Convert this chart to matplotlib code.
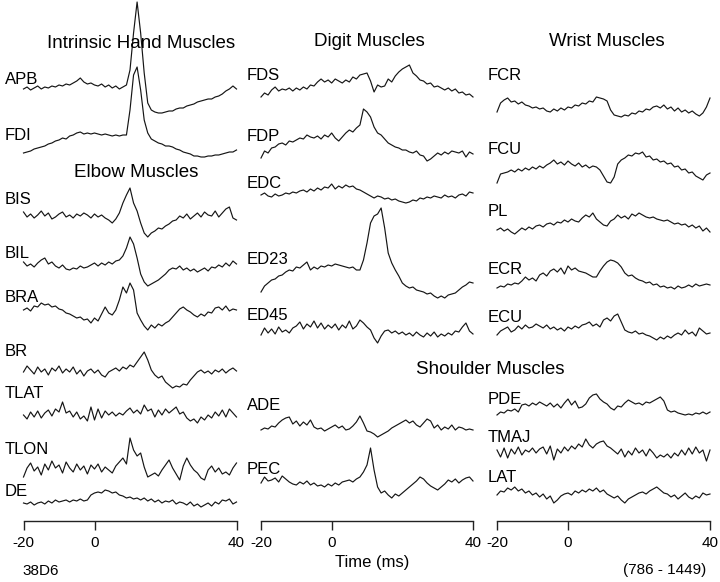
import numpy as np
import matplotlib
matplotlib.use("Agg")
import matplotlib.pyplot as plt

plt.rcParams['font.family'] = ['Liberation Sans', 'DejaVu Sans']
plt.rcParams['axes.unicode_minus'] = False

# time axis of every trace (ms)
time_ms = np.arange(-20, 41)
tick_values = [-20, 0, 40]

# ---- trace amplitudes (upward deflection, arbitrary units), t = -20 .. 40 ms ----
APB = [-1, 1, -2, 0, 2, -1, 1, 0, 2, 1,
       3, 2, 4, 3, 5, 7, 10, 6, 4, 5,
       3, 2, 4, 1, 3, 0, 2, -1, 1, 3,
       18, 55, 86, 55, 15, -15, -22, -24, -25, -25,
       -24, -23, -23, -21, -20, -20, -18, -17, -16, -14,
       -13, -12, -11, -11, -9, -8, -6, -3, -1, 2,
       -1]
FDI = [-18, -17, -16, -14, -13, -12, -11, -9, -8, -6,
       -5, -3, -4, -1, 0, 2, 3, 1, 2, 1,
       2, 1, 0, 1, 0, -1, 0, -1, 0, 0,
       25, 60, 68, 45, 15, 2, -4, -6, -8, -9,
       -11, -11, -12, -14, -15, -17, -18, -19, -21, -21,
       -22, -22, -21, -21, -20, -20, -19, -18, -17, -17,
       -15]
BIS = [3, -2, 1, -3, 0, 4, -1, 2, -4, -2,
       1, 3, -2, 0, -3, 1, -1, 2, 0, -3,
       1, -2, 0, -3, -5, -8, -4, 2, 12, 20,
       27, 12, 4, -8, -18, -22, -18, -16, -13, -14,
       -11, -9, -6, -5, -1, -3, 1, -4, -1, 2,
       -2, 3, 0, -1, 4, -2, 2, 6, 8, -3,
       -5]
BIL = [4, 0, 2, -1, 3, 6, 8, 2, 4, 0,
       -2, 1, -3, -4, -2, -3, 0, -2, -1, 1,
       3, 0, 3, 1, 4, 2, 5, 6, 10, 18,
       29, 22, 8, -8, -16, -20, -18, -16, -14, -11,
       -8, -4, -2, -3, 0, -4, -2, -5, -3, -6,
       -4, -2, -5, -1, -2, 1, -1, 3, 0, 5,
       2]
BRA = [0, 2, -1, 4, 3, 7, 5, 6, 3, 4,
       1, 0, -3, -4, -6, -8, -7, -10, -9, -13,
       -8, -11, -4, 3, -3, -5, 0, 10, 23, 17,
       27, 20, -3, -10, -16, -20, -15, -18, -14, -16,
       -13, -11, -7, -3, 1, 3, 0, -2, -5, -7,
       -4, -6, -2, -3, 2, 3, 0, 4, -1, 1,
       0]
BR = [0, 6, 2, -2, 5, 0, 3, -3, 4, 1,
      6, -1, 3, 0, 5, -2, 2, -4, 1, 3,
      -1, 2, -3, -5, 0, 2, 4, 1, 5, 3,
      7, 5, 10, 15, 20, 12, 2, -3, -6, -4,
      -10, -13, -16, -14, -15, -12, -13, -8, -4, 0,
      2, -1, 1, -2, 2, 0, 3, -1, 2, 4,
      1]
TLAT = [0, -4, 3, -2, 4, -3, 2, 5, -1, 6,
        3, 13, 2, 4, -2, 3, -4, -1, -6, 8,
        -5, 6, -3, 4, 0, 3, -1, 2, 0, 4,
        7, 2, 5, 1, 10, 4, 6, -2, 5, 0,
        6, 2, 5, 8, 1, 3, -3, -6, -4, -8,
        -2, -5, 0, -3, 3, -1, 5, -2, 6, 2,
        -2]
TLON = [-7, 2, 7, -1, 3, -5, 6, 0, 9, 2,
        5, -3, 8, 2, -2, 6, 0, 4, -4, 5,
        1, 6, -2, 3, 0, -3, 4, 8, 12, 6,
        32, 20, 14, 17, 3, -7, -5, -3, -6, 0,
        5, 10, 2, -4, -10, 4, 12, 5, 0, -3,
        -8, -10, 0, 4, -2, 2, -4, -2, -5, 2,
        7]
DE = [0, -1, 1, -2, 0, 1, -1, 2, 0, 3,
      1, 2, 3, 1, 3, 2, 4, 2, 3, 8,
      10, 11, 10, 13, 12, 10, 11, 8, 7, 5,
      6, 4, 5, 3, 5, 2, 4, 1, 3, 0,
      2, 1, 3, -1, 1, 0, -2, 1, -3, -1,
      -4, -2, 0, -3, 1, -1, 3, 2, 4, -1,
      1]
FDS = [-9, -5, -7, -2, 1, -3, -1, -2, 0, -3,
       0, -2, 1, -1, 3, 2, 6, 9, 6, 8,
       5, 9, 7, 5, 8, 6, 11, 9, 13, 14,
       15, 7, -4, 3, 1, 2, 9, 6, 12, 16,
       19, 21, 23, 15, 12, 8, 7, 4, 5, 1,
       2, 0, -2, 0, -3, -1, -5, -4, -7, -6,
       -9]
FDP = [-11, -4, -6, -1, 0, 3, 4, 2, 6, 5,
       7, 9, 8, 12, 10, 9, 11, 8, 12, 10,
       14, 9, 6, 10, 14, 17, 15, 19, 22, 38,
       35, 30, 20, 14, 12, 8, 4, 2, 0, -1,
       -3, -3, -5, -6, -4, -8, -9, -14, -12, -9,
       -6, -8, -5, -7, -4, -5, -6, -4, -10, -5,
       -7]
EDC = [0, 2, -1, -2, 1, -1, 0, 2, 1, 3,
       2, 4, 5, 3, 6, 4, 7, 5, 8, 7,
       11, 6, 9, 7, 10, 8, 9, 6, 5, 3,
       1, -1, -3, -1, -2, -4, -3, -5, -4, -6,
       -7, -8, -7, -5, -6, -3, -4, -2, -3, -1,
       -2, -3, 0, -2, -1, -3, 0, 1, -1, 3,
       2]
ED23 = [-24, -18, -15, -12, -11, -8, -7, -4, -2, -3,
        1, 0, 3, 6, -2, 1, -1, 2, 1, 3,
        2, 4, 3, 2, 1, 0, 1, -2, -2, 8,
        25, 45, 52, 54, 60, 40, 15, 5, -2, -8,
        -15, -18, -20, -19, -22, -23, -24, -26, -25, -28,
        -30, -28, -30, -27, -26, -25, -22, -19, -17, -14,
        -15]
ED45 = [-5, 2, -3, 1, -4, 3, -2, 0, -3, 2,
        4, 8, 1, 6, 3, 9, 2, 7, 1, 5,
        2, 6, 0, 5, 2, 9, 1, 4, 10, 7,
        3, 0, -8, -13, -6, -1, 0, -3, -1, -4,
        -2, -5, -3, -6, -2, -5, -7, -3, -6, -2,
        -7, -4, -6, -3, -5, -1, -2, 3, 7, -1,
        -4]
ADE = [-3, -1, -2, 1, 0, 4, 7, 9, 10, 3,
       6, 1, 5, 2, 7, 0, -2, -1, -4, -2,
       0, 2, -1, 1, -3, -2, 1, 5, 11, 4,
       -4, -5, -7, -10, -8, -6, -4, -1, 1, 3,
       5, 7, 4, 6, 2, 0, 4, 8, 6, -1,
       2, -3, 0, -2, 2, -3, 0, -1, -3, -2,
       -3]
PEC = [-3, 3, -1, 0, 2, -2, 4, 1, -2, -4,
       -5, -2, -4, -1, -5, -3, -6, -5, -7, -4,
       -6, -3, -5, -2, -1, 0, -2, 1, 3, 8,
       15, 32, 10, -7, -13, -11, -15, -18, -14, -16,
       -13, -10, -7, -4, -1, 3, 1, -3, -6, -8,
       -10, -7, -4, 0, -2, 1, -3, 0, 2, 3,
       -1]
FCR = [-7, 2, 5, 7, 3, 4, 1, 3, 0, -1,
       -3, -2, -4, -3, -6, -7, -4, -6, -3, -5,
       -2, -3, 0, -1, 2, 1, 4, 3, 8, 7,
       6, 4, -5, -10, -11, -12, -10, -11, -8, -9,
       -6, -7, -4, -5, -2, -1, -3, 0, -4, -2,
       -6, -3, -7, -5, -8, -6, -9, -11, -8, -2,
       7]
FCU = [-15, -6, -5, -4, -2, -4, -1, -3, 0, -2,
       1, -1, 2, 0, 3, 5, 8, 4, 6, 3,
       7, 4, 2, 5, 1, 3, 0, 2, 1, -2,
       -8, -14, -15, -9, 4, 8, 10, 13, 12, 15,
       14, 16, 11, 12, 8, 9, 6, 7, 4, 5,
       1, 2, -2, -1, -5, -4, -8, -10, -12, -7,
       -5]
PL = [-5, -3, -6, -4, -7, -9, -6, -3, -5, -2,
      -4, -1, 0, -2, 1, 2, 0, 3, 2, 5,
      3, 6, 4, 3, 7, 10, 8, 12, 6, 3,
      0, -1, 4, 6, 10, 7, 9, 6, 11, 9,
      12, 10, 8, 7, 8, 6, 5, 4, 5, 3,
      1, 2, 0, 1, -2, 0, -3, -1, -6, -3,
      -7]
ECR = [-8, -6, -7, -4, -5, -3, -4, -1, 3, 0,
       2, -1, 5, 7, 4, 9, 11, 8, 12, 6,
       14, 10, 12, 9, 8, 7, 5, 3, 3, 9,
       14, 18, 20, 19, 17, 13, 7, 4, 5, 2,
       0, -1, -3, -2, -5, -4, -7, -6, -8, -7,
       -9, -6, -8, -7, -5, -7, -4, -6, -5, -4,
       -5]
ECU = [-5, -1, 1, 3, -2, 0, 4, 1, 5, 2,
       3, 6, 4, 2, 5, 1, 3, 0, 2, -1,
       3, 1, 4, 2, 5, 6, 8, 4, 6, 3,
       10, 12, 9, 14, 16, 8, 0, -2, -3, -1,
       -4, -3, -5, -6, -8, -10, -7, -9, -6, -8,
       -5, -3, -5, 0, -4, -2, -6, 2, -1, -4,
       -3]
PDE = [-8, -5, -6, -3, -4, -2, -5, 2, 3, 1,
       4, 2, 5, 3, 1, 4, 0, 3, -1, 4,
       8, 2, 6, -1, 0, 3, 9, 12, 13, 8,
       5, 3, -1, -3, 1, 0, 4, 7, 5, 3,
       4, 2, 5, 4, 6, 8, 10, 6, -3, -5,
       -4, -6, -7, -8, -7, -8, -6, -7, -5, -7,
       -5]
TMAJ = [2, -5, 4, -6, 3, -2, 5, -3, 2, 0,
        4, -1, 3, 5, -2, 6, -8, 3, -1, 5,
        1, 6, 3, 8, 5, 13, 7, 4, 8, 10,
        11, 6, 4, 1, -2, 3, -5, 1, -3, 4,
        -1, 2, -4, 3, -1, -6, -3, -5, -2, -6,
        -1, -4, 2, -3, 4, -2, 5, -1, 2, -9,
        2]
LAT = [-1, 3, 2, 6, 4, 7, 3, 5, 1, 3,
       -1, 1, -3, 0, -5, -2, -9, -6, -2, 0,
       1, -1, 3, 1, 4, 2, 5, 3, 6, 2,
       4, 0, -2, -4, -2, -6, -9, -5, -3, -1,
       1, 2, 0, 3, 5, 7, 4, 1, 0, -3,
       -1, -5, -2, 1, -3, -5, -2, -4, 1, -1,
       0]

# ---- layout (pixels) ----
W, H = 720, 582
AXIS_Y = 521
fig = plt.figure(figsize=(W / 100, H / 100), dpi=100)
fig.patch.set_facecolor('white')

def ftxt(x, y, s, **kw):
    fig.text(x / W, 1 - y / H, s, **kw)

# (name, data, baseline row, label x, label y)
columns = [
    dict(x0=23.5, x1=236.5, traces=[
        ("APB", APB, 88, 5, 80), ("FDI", FDI, 135, 5, 135),
        ("BIS", BIS, 215, 5, 199), ("BIL", BIL, 266, 5, 254),
        ("BRA", BRA, 310, 5, 297), ("BR", BR, 372, 5, 351),
        ("TLAT", TLAT, 415, 5, 394), ("TLON", TLON, 470, 5, 450),
        ("DE", DE, 503, 5, 492)]),
    dict(x0=261, x1=473, traces=[
        ("FDS", FDS, 88, 247, 76), ("FDP", FDP, 147, 247, 136),
        ("EDC", EDC, 195, 247, 184), ("ED23", ED23, 268, 247, 260),
        ("ED45", ED45, 330, 247, 315), ("ADE", ADE, 427, 247, 405),
        ("PEC", PEC, 480, 247, 469)]),
    dict(x0=497, x1=710, traces=[
        ("FCR", FCR, 105, 488, 76), ("FCU", FCU, 168, 488, 150),
        ("PL", PL, 225, 488, 212), ("ECR", ECR, 280, 488, 269),
        ("ECU", ECU, 330, 488, 317), ("PDE", PDE, 407, 488, 400),
        ("TMAJ", TMAJ, 452, 488, 437), ("LAT", LAT, 494, 488, 477)]),
]

for col in columns:
    ax = fig.add_axes([col['x0'] / W, (H - AXIS_Y) / H,
                       (col['x1'] - col['x0']) / W, AXIS_Y / H])
    ax.set_xlim(-20, 40)
    ax.set_ylim(AXIS_Y, 0)
    ax.patch.set_alpha(0)
    for s in ['top', 'left', 'right']:
        ax.spines[s].set_visible(False)
    ax.spines['bottom'].set_linewidth(1.0)
    ax.spines['bottom'].set_color('#222222')
    ax.set_yticks([])
    ax.set_xticks(tick_values)
    ax.set_xticklabels([str(v) for v in tick_values])
    ax.tick_params(axis='x', direction='out', length=6.5, width=1.0,
                   color='#222222', labelsize=11, pad=4)
    for name, vals, base, lx, ly in col['traces']:
        ax.plot(time_ms, base - np.asarray(vals, dtype=float),
                color='#151515', lw=0.85, clip_on=False)
        ftxt(lx, ly, name, fontsize=12, va='center', ha='left')

# group titles
title_kw = dict(fontsize=13.5, ha='center', va='center')
ftxt(141, 43, "Intrinsic Hand Muscles", **title_kw)
ftxt(136, 172, "Elbow Muscles", **title_kw)
ftxt(369, 42, "Digit Muscles", **title_kw)
ftxt(607, 42, "Wrist Muscles", **title_kw)
ftxt(490, 370, "Shoulder Muscles", **title_kw)

ftxt(372, 562, "Time (ms)", fontsize=12, ha='center', va='center')
ftxt(22, 571, "38D6", fontsize=11, ha='left', va='center')
ftxt(665, 570, "(786 - 1449)", fontsize=11, ha='center', va='center')

fig.savefig("out.png", dpi=100, facecolor='white')
